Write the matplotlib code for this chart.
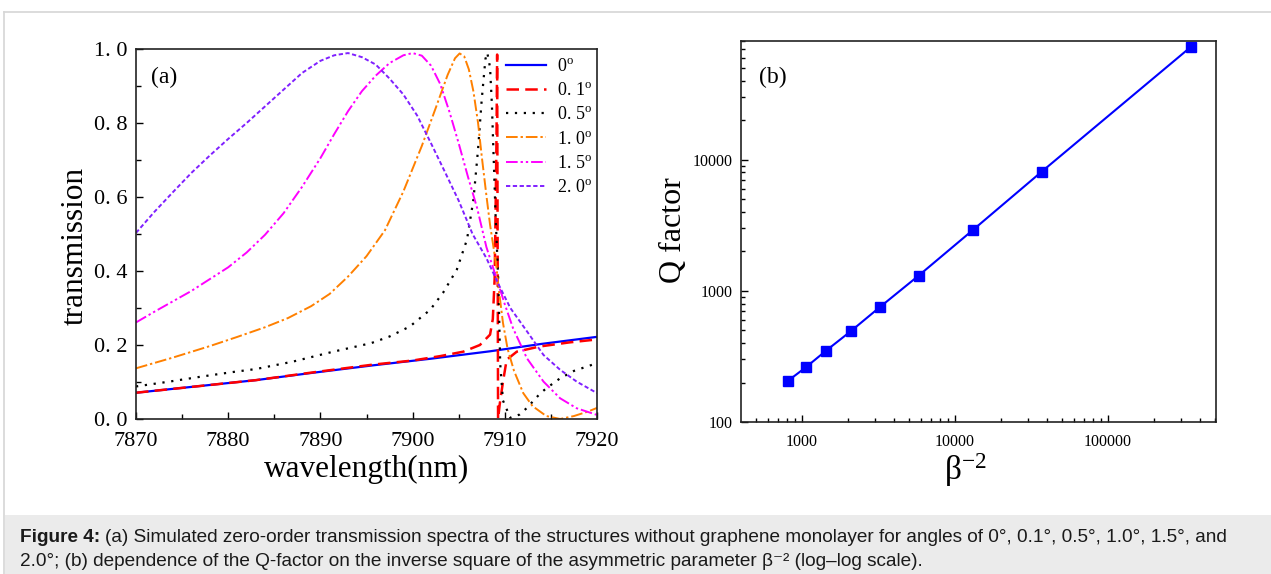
import matplotlib
matplotlib.use('Agg')
import matplotlib.pyplot as plt
from matplotlib.patches import Rectangle
from matplotlib.lines import Line2D
from matplotlib.ticker import MultipleLocator, NullFormatter

plt.rcParams['font.family'] = ['Liberation Serif', 'DejaVu Serif']
plt.rcParams['mathtext.fontset'] = 'custom'
plt.rcParams['mathtext.rm'] = 'Liberation Serif'
plt.rcParams['mathtext.it'] = 'Liberation Serif:italic'

# ---- panel (a): transmission spectra ----
wl_00 = [7870, 7876.5, 7883, 7889.2, 7895.7, 7902, 7908.4, 7914, 7920]
t_00 = [0.071, 0.088, 0.105, 0.125, 0.145, 0.163, 0.183, 0.203, 0.222]

wl_01 = [7870, 7876.5, 7883, 7889.2, 7895.7, 7900, 7903, 7905.5, 7907.3, 7908.4,
         7908.7, 7908.9, 7909.0, 7909.1, 7909.17, 7909.22, 7909.27, 7909.45,
         7909.8, 7910.2, 7911.3, 7913.8, 7917, 7920]
t_01 = [0.071, 0.088, 0.105, 0.126, 0.147, 0.158, 0.17, 0.182, 0.20, 0.228,
        0.27, 0.38, 0.56, 0.76, 0.985, 0.50, 0.0, 0.04,
        0.10, 0.16, 0.182, 0.196, 0.207, 0.215]

wl_05 = [7870, 7873.6, 7877.2, 7880.8, 7883, 7887, 7891.4, 7895.5, 7897.5, 7899.7,
         7901.9, 7903.3, 7904.8, 7905.9, 7906.6, 7907.1, 7907.5, 7907.9, 7908.1,
         7908.4, 7908.6, 7908.8, 7909.0, 7909.3, 7909.5, 7909.8, 7910.6, 7911.6,
         7912.4, 7913.8, 7914.5, 7916, 7917.5, 7920]
t_05 = [0.088, 0.101, 0.115, 0.128, 0.135, 0.155, 0.182, 0.205, 0.223, 0.25,
        0.295, 0.341, 0.404, 0.485, 0.593, 0.729, 0.864, 0.973, 0.99,
        0.95, 0.85, 0.70, 0.55, 0.37, 0.15, 0.05, 0.003, 0.012,
        0.03, 0.068, 0.083, 0.11, 0.13, 0.151]

wl_10 = [7870, 7874, 7878, 7881, 7884, 7886.5, 7889, 7891, 7893, 7895,
         7897, 7899, 7901, 7902.5, 7903.8, 7904.6, 7905.1, 7905.6, 7906.1,
         7906.6, 7907.1, 7907.5, 7908.0, 7908.4, 7908.8, 7909.1, 7909.3,
         7909.8, 7910.3, 7911.0, 7912.0, 7913.0, 7914.5, 7916.0, 7917.5, 7919, 7920]
t_10 = [0.137, 0.166, 0.197, 0.222, 0.248, 0.273, 0.305, 0.338, 0.385, 0.44,
        0.51, 0.615, 0.738, 0.84, 0.93, 0.975, 0.988, 0.98, 0.945,
        0.885, 0.80, 0.71, 0.605, 0.525, 0.46, 0.41, 0.36,
        0.26, 0.19, 0.13, 0.07, 0.035, 0.008, 0.0, 0.008, 0.02, 0.03]

wl_15 = [7870, 7872, 7874, 7876, 7878, 7880, 7882, 7884, 7886, 7888,
         7890, 7891.5, 7893, 7894.5, 7896, 7897.5, 7899, 7900, 7901, 7902,
         7903, 7904, 7905, 7906, 7907, 7908, 7909.3, 7910, 7910.9, 7912.4,
         7914.2, 7916.0, 7917.8, 7920]
t_15 = [0.261, 0.29, 0.318, 0.346, 0.378, 0.41, 0.45, 0.498, 0.556, 0.627,
        0.705, 0.77, 0.832, 0.886, 0.928, 0.962, 0.983, 0.989, 0.982, 0.955,
        0.905, 0.83, 0.745, 0.655, 0.57, 0.465, 0.365, 0.31, 0.245, 0.164,
        0.101, 0.056, 0.029, 0.011]

wl_20 = [7870, 7872, 7874, 7876, 7878, 7880, 7882, 7884, 7886, 7888,
         7890, 7891.5, 7893, 7894.5, 7896, 7897.5, 7899, 7900.5, 7902, 7903.5,
         7905, 7906.5, 7908, 7909.3, 7910.6, 7912.4, 7914.2, 7916.0, 7917.8, 7920]
t_20 = [0.503, 0.56, 0.613, 0.665, 0.712, 0.757, 0.80, 0.845, 0.89, 0.935,
        0.968, 0.983, 0.989, 0.978, 0.958, 0.92, 0.877, 0.82, 0.745, 0.668,
        0.59, 0.50, 0.435, 0.365, 0.30, 0.237, 0.173, 0.133, 0.101, 0.07]

angle_labels = ['0$^{\\mathrm{o}}$', '0. 1$^{\\mathrm{o}}$', '0. 5$^{\\mathrm{o}}$',
                '1. 0$^{\\mathrm{o}}$', '1. 5$^{\\mathrm{o}}$', '2. 0$^{\\mathrm{o}}$']
wl_ticks = [7870, 7880, 7890, 7900, 7910, 7920]
t_ticks = [0.0, 0.2, 0.4, 0.6, 0.8, 1.0]
t_ticklabels = ['0. 0', '0. 2', '0. 4', '0. 6', '0. 8', '1. 0']

# ---- panel (b): Q factor vs beta^-2 ----
beta_inv2 = [819, 1069, 1445, 2089, 3250, 5808, 13210, 36900, 347600]
q_factor = [207, 262, 350, 491, 753, 1306, 2925, 8090, 72300]
b_xticks = [1000, 10000, 100000]
b_yticks = [100, 1000, 10000]

W, H = 1271, 574
fig = plt.figure(figsize=(W / 100, H / 100), dpi=100)


def px(l, t, r, b):
    return [l / W, 1 - b / H, (r - l) / W, (b - t) / H]


# frame and caption box
grey = '#d6d6d6'
fig.add_artist(Line2D([4 / W, 1], [1 - 12 / H, 1 - 12 / H], color=grey, lw=1.2))
fig.add_artist(Line2D([4 / W, 4 / W], [0, 1 - 12 / H], color=grey, lw=1.2))
fig.add_artist(Rectangle((4.5 / W, 0), 1, (H - 515) / H, facecolor='#ebebeb',
                         edgecolor='none', transform=fig.transFigure))

# ---------- (a) ----------
ax1 = fig.add_axes(px(136, 49, 597, 419))
styles = [
    dict(color='#0000ff', lw=1.6, ls='-'),
    dict(color='#ff0000', lw=1.8, ls=(0, (5, 2.5))),
    dict(color='#000000', lw=1.6, ls=(0, (1, 3))),
    dict(color='#ff8000', lw=1.4, ls=(0, (6, 1.5, 1.2, 1.5))),
    dict(color='#ff00ff', lw=1.4, ls=(0, (6, 1.5, 1.2, 1.5, 1.2, 1.5))),
    dict(color='#8020ff', lw=1.4, ls=(0, (2.2, 1.3))),
]
series = [(wl_00, t_00), (wl_01, t_01), (wl_05, t_05),
          (wl_10, t_10), (wl_15, t_15), (wl_20, t_20)]
for (x, y), st, lab in zip(series, styles, angle_labels):
    ax1.plot(x, y, label=lab, **st)

ax1.set_xlim(7870, 7920)
ax1.set_ylim(0, 1)
ax1.set_xticks(wl_ticks)
ax1.set_xticklabels([str(v) for v in wl_ticks])
ax1.set_yticks(t_ticks)
ax1.set_yticklabels(t_ticklabels)
ax1.xaxis.set_minor_locator(MultipleLocator(5))
ax1.yaxis.set_minor_locator(MultipleLocator(0.1))
ax1.tick_params(which='both', direction='in', top=False, right=False, width=1.0)
ax1.tick_params(which='major', length=5, labelsize=16)
ax1.tick_params(which='minor', length=3.5)
ax1.tick_params(axis='x', which='major', pad=9)
ax1.tick_params(axis='y', which='major', pad=6)
for sp in ax1.spines.values():
    sp.set_linewidth(1.2)
    sp.set_color('#222222')

ax1.text((151 - 136) / 461, (419 - 77.5) / 370, '(a)', fontsize=17,
         ha='left', va='center', transform=ax1.transAxes)
ax1.legend(loc='upper left', bbox_to_anchor=((506 - 136) / 461, (419 - 58) / 370),
           frameon=False, fontsize=13, handlelength=2.2, handletextpad=0.6,
           labelspacing=0.4, borderaxespad=0, borderpad=0)

fig.text(367 / W, 1 - 469 / H, 'wavelength(nm)', fontsize=22.5, ha='center', va='center')
fig.text(75.5 / W, 1 - 246 / H, 'transmission', fontsize=22.5, rotation=90,
         ha='center', va='center')

# ---------- (b) ----------
ax2 = fig.add_axes(px(741, 41, 1216, 422))
ax2.plot(beta_inv2, q_factor, color='#0000ff', lw=1.5, marker='s', markersize=7.5)
ax2.set_xscale('log')
ax2.set_yscale('log')
ax2.set_xlim(402, 508000)
ax2.set_ylim(100, 80300)
ax2.set_xticks(b_xticks)
ax2.set_xticklabels([str(v) for v in b_xticks])
ax2.set_yticks(b_yticks)
ax2.set_yticklabels([str(v) for v in b_yticks])
ax2.xaxis.set_minor_formatter(NullFormatter())
ax2.yaxis.set_minor_formatter(NullFormatter())
ax2.tick_params(which='both', direction='in', top=False, right=False, width=1.0)
ax2.tick_params(which='major', length=5, labelsize=11.5)
ax2.tick_params(which='minor', length=3)
ax2.tick_params(axis='x', which='major', pad=9)
ax2.tick_params(axis='y', which='major', pad=6)
for sp in ax2.spines.values():
    sp.set_linewidth(1.2)
    sp.set_color('#222222')
ax2.text((759 - 741) / 475, (422 - 77.5) / 381, '(b)', fontsize=17,
         ha='left', va='center', transform=ax2.transAxes)

fig.text(674 / W, 1 - 230 / H, 'Q factor', fontsize=23, rotation=90,
         ha='center', va='center')
fig.text(965 / W, 1 - 470 / H, '$\\mathrm{\\beta}^{-2}$', fontsize=24,
         ha='center', va='center')

# ---------- caption ----------
cap_font = ['Liberation Sans', 'DejaVu Sans']
cap_bold = 'Figure 4:'
cap_line1 = ('(a) Simulated zero-order transmission spectra of the structures without '
             'graphene monolayer for angles of 0°, 0.1°, 0.5°, 1.0°, 1.5°, and')
cap_line2 = ('2.0°; (b) dependence of the Q-factor on the inverse square of the '
             'asymmetric parameter β⁻² (log–log scale).')
y1 = 1 - 537 / H
y2 = 1 - 561 / H
tb = fig.text(20 / W, y1, cap_bold, fontsize=13.65, weight='bold', family=cap_font,
              color='#1a1a1a', va='center')
r = fig.canvas.get_renderer()
bb = tb.get_window_extent(r)
fig.text(bb.x1 / W + 5 / W, y1, cap_line1, fontsize=13.65, family=cap_font,
         color='#1a1a1a', va='center')
fig.text(20 / W, y2, cap_line2, fontsize=13.65, family=cap_font,
         color='#1a1a1a', va='center')

fig.savefig('out.png', dpi=100)
